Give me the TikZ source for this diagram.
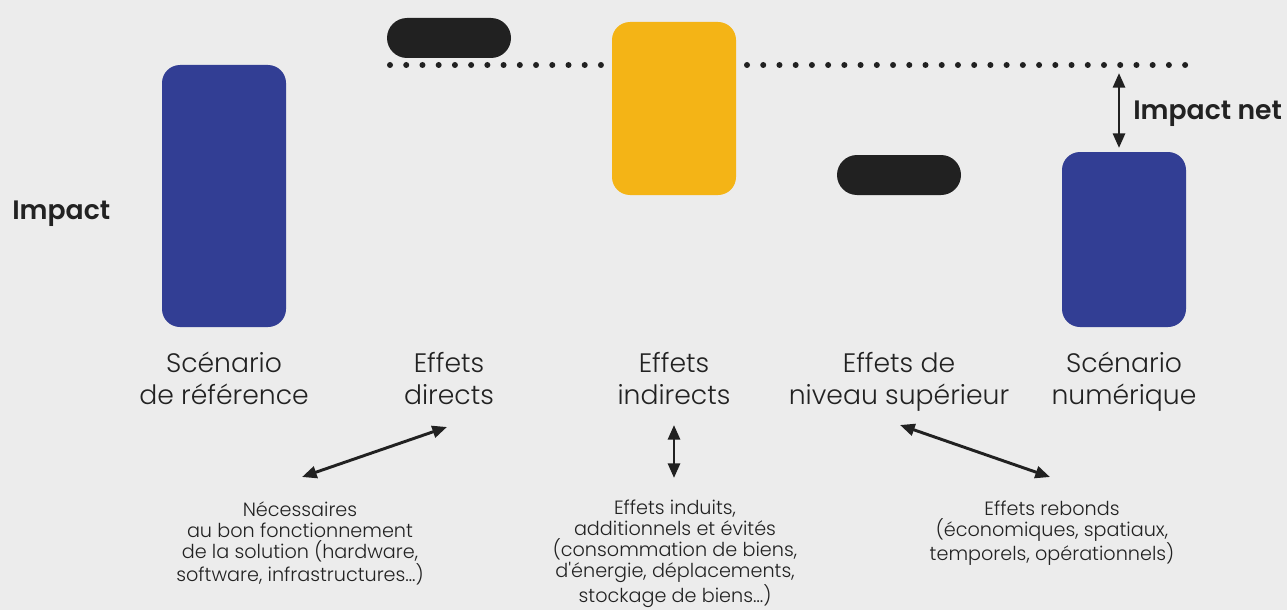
\documentclass[tikz,border=0pt]{standalone}
\usepackage{fontspec}
\setmainfont{Poppins}
\newfontfamily\lightfont{Poppins Light}[Ligatures=TeXOff]
\newfontfamily\semifont{Poppins SemiBold}
\usetikzlibrary{arrows.meta}
\definecolor{bgray}{RGB}{236,236,236}
\definecolor{sblue}{RGB}{50,62,148}
\definecolor{syellow}{RGB}{244,180,22}
\definecolor{sblack}{RGB}{33,33,33}
\definecolor{stext}{RGB}{34,34,34}
\begin{document}
\begin{tikzpicture}[x=0.75pt,y=-0.75pt,
	bar/.style={rectangle,rounded corners=13.5pt,minimum width=93pt,inner sep=0pt},
	pill/.style={rectangle,rounded corners=15pt,fill=sblack,minimum width=93pt,minimum height=30pt,inner sep=0pt},
	lbl/.style={align=center,text=stext,font=\lightfont\fontsize{20}{24}\selectfont},
	note/.style={align=center,text=stext,font=\lightfont\fontsize{14.4}{15.75}\selectfont},
	bold lbl/.style={text=stext,font=\semifont\fontsize{20}{24}\selectfont,inner sep=0pt},
	both/.style={{Triangle[length=11pt,width=9pt]}-{Triangle[length=11pt,width=9pt]},line width=2.2pt,draw=sblack},
	dots/.style={draw=sblack,line width=4.5pt,line cap=round,dash pattern=on 0pt off 12.17pt}]
	\fill[bgray] (0,0) rectangle (1287,610);
	\useasboundingbox (0,0) rectangle (1287,610);

	% bars
	\node[bar,fill=sblue,minimum height=196.5pt] at (224,196) (ref) {};
	\node[pill] at (449,38) (direct) {};
	\node[bar,fill=syellow,minimum height=129.75pt] at (674,108.5) (indirect) {};
	\node[pill] at (899,175) (sup) {};
	\node[bar,fill=sblue,minimum height=131.25pt] at (1124,239.5) (num) {};

	% dotted line
	\coordinate (d1) at (390,65);
	\coordinate (d2) at (602,65);
	\coordinate (d3) at (747,65);
	\coordinate (d4) at (1186,65);
	\draw[dots] (d1) -- (d2);
	\draw[dots] (d3) -- (d4);

	% labels
	\node[bold lbl,anchor=west] at (12,214) (impact) {Impact};
	\node[bold lbl,anchor=west] at (1133,114) (net) {Impact net};
	\node[lbl] at (224,382) (lref) {\strut Scénario\\de référence\strut};
	\node[lbl] at (449,382) (ldir) {\strut Effets\\directs\strut};
	\node[lbl] at (674,382) (lind) {\strut Effets\\indirects\strut};
	\node[lbl] at (899,382) (lsup) {\strut Effets de\\niveau supérieur\strut};
	\node[lbl] at (1124,382) (lnum) {\strut Scénario\\numérique\strut};

	\node[note] at (300,543) (n1) {Nécessaires\\au bon fonctionnement\\de la solution (hardware,\\software, infrastructures…)};
	\node[note] at (675,554) (n2) {Effets induits,\\additionnels et évités\\(consommation de biens,\\d'énergie, déplacements,\\stockage de biens…)};
	\node[note] at (1052,533) (n3) {Effets rebonds\\(économiques, spatiaux,\\temporels, opérationnels)};

	% arrows
	\coordinate (a1) at (302,477);
	\coordinate (a2) at (447,427);
	\coordinate (b1) at (674,425);
	\coordinate (b2) at (674,478);
	\coordinate (c1) at (900,425);
	\coordinate (c2) at (1050,477);
	\coordinate (e1) at (1119,73);
	\coordinate (e2) at (1119,148);
	\draw[both] (a1) -- (a2);
	\draw[both] (b1) -- (b2);
	\draw[both] (c1) -- (c2);
	\draw[both] (e1) -- (e2);
\end{tikzpicture}
\end{document}
